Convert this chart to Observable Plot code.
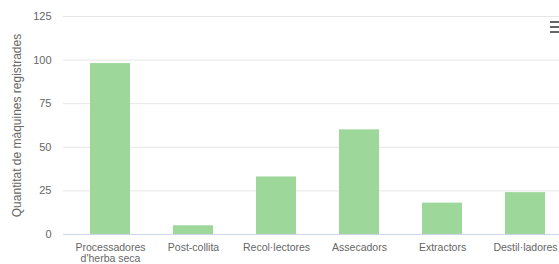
<!DOCTYPE html>
<html>
<head>
<meta charset="utf-8">
<script src="https://cdn.jsdelivr.net/npm/d3@7"></script>
<script src="https://cdn.jsdelivr.net/npm/@observablehq/plot@0.6"></script>
<style>
  html, body { margin: 0; padding: 0; background: #fff; overflow: hidden; }
  #wrap { position: relative; width: 559px; height: 264px; }
  #menu { position: absolute; left: 550px; top: 21px; width: 12px; }
  #menu span { display: block; height: 2px; background: #666; margin-bottom: 3px; }
</style>
</head>
<body>
<div id="wrap"><div id="menu"><span></span><span></span><span></span></div></div>
<script>
const categories = ["Processadores\nd'herba seca", "Post-collita", "Recol·lectores", "Assecadors", "Extractors", "Destil·ladores"];
const values = [98, 5, 33, 60, 18, 24];
const yTicks = [0, 25, 50, 75, 100, 125];
const yTitle = "Quantitat de màquines registrades";

const data = categories.map((c, i) => ({category: c, value: values[i]}));

const chart = Plot.plot({
  width: 559,
  height: 264,
  marginTop: 16,
  marginBottom: 30,
  marginLeft: 63,
  marginRight: 0,
  style: {fontFamily: "'Liberation Sans', Arial, sans-serif", fontSize: "11px", color: "#666", background: "#fff", overflow: "hidden"},
  x: {domain: categories, range: [65.5, 569], paddingInner: 0.52, paddingOuter: 0.26},
  y: {domain: [0, 125]},
  marks: [
    Plot.ruleY(yTicks.filter(d => d > 0), {stroke: "#e6e6e6", strokeWidth: 1}),
    Plot.barY(data, {x: "category", y: "value", fill: "#9dd79a"}),
    Plot.ruleY([0], {stroke: "#ccd6eb", strokeWidth: 1}),
    Plot.axisY({ticks: yTicks, tickSize: 0, tickPadding: 12, label: null, fill: "#666", fontSize: 11}),
    Plot.text([yTitle], {frameAnchor: "left", dx: -51, rotate: -90, textAnchor: "middle", lineAnchor: "top", fill: "#666", fontSize: 12}),
    Plot.axisX({tickSize: 0, tickPadding: 9, label: null, lineHeight: 1.05, fill: "#666", fontSize: 10.5})
  ]
});
document.getElementById("wrap").prepend(chart);
</script>
</body>
</html>
